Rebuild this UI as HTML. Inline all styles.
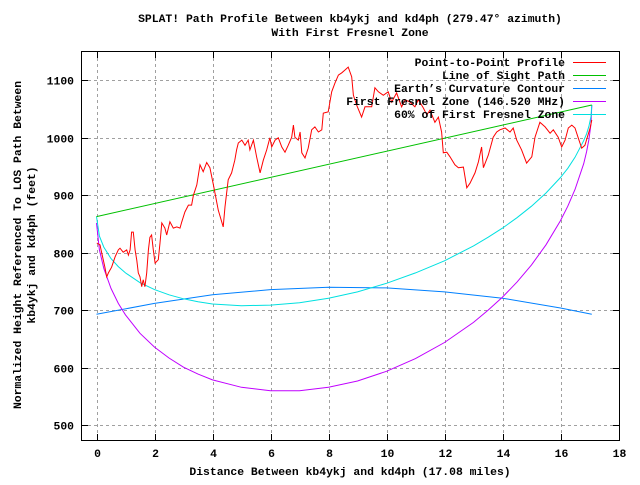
<!DOCTYPE html>
<html><head><meta charset="utf-8"><style>
html,body{margin:0;padding:0;background:#fff;}
svg text{font-family:"Liberation Mono",monospace;font-weight:bold;font-size:11.4px;fill:#000;}
</style></head><body>
<svg id="chart" width="640" height="480" xmlns="http://www.w3.org/2000/svg">
<text x="350" y="22" text-anchor="middle">SPLAT! Path Profile Between kb4ykj and kd4ph (279.47° azimuth)</text>
<text x="350" y="36" text-anchor="middle">With First Fresnel Zone</text>
<text x="350" y="475" text-anchor="middle">Distance Between kb4ykj and kd4ph (17.08 miles)</text>
<g transform="translate(21,245) rotate(-90)"><text x="0" y="0" text-anchor="middle">Normalized Height Referenced To LOS Path Between</text><text x="0" y="14" text-anchor="middle">kb4ykj and kd4ph (feet)</text></g>
<g id="grid"></g><g id="ticks"></g><g id="series"></g><g id="legend"></g>
<rect x="81.5" y="51.5" width="538" height="389" fill="none" stroke="#000" stroke-width="1"/>
</svg>
<script>
const xTicks=[0,2,4,6,8,10,12,14,16,18];
const yTicks=[500,600,700,800,900,1000,1100];
const profileX=[0.01,0.12,0.18,0.29,0.35,0.41,0.52,0.64,0.75,0.81,0.92,1.04,1.10,1.16,1.21,1.27,1.33,1.39,1.44,1.50,1.56,1.61,1.67,1.73,1.79,1.84,1.90,1.96,2.02,2.13,2.19,2.25,2.36,2.42,2.53,2.65,2.77,2.88,2.94,3.05,3.17,3.28,3.34,3.46,3.57,3.68,3.80,3.91,4.03,4.20,4.37,4.43,4.54,4.66,4.77,4.83,4.89,5.01,5.12,5.23,5.29,5.41,5.52,5.64,5.75,5.87,5.98,6.04,6.16,6.27,6.39,6.50,6.61,6.73,6.79,6.84,6.96,7.02,7.08,7.19,7.30,7.42,7.53,7.65,7.77,7.82,7.99,8.11,8.22,8.34,8.46,8.57,8.68,8.80,8.86,8.97,9.14,9.26,9.49,9.60,9.72,9.89,10.06,10.18,10.35,10.52,10.64,10.81,10.98,11.10,11.27,11.39,11.50,11.67,11.79,11.90,11.96,12.08,12.19,12.36,12.48,12.65,12.77,12.88,13.05,13.17,13.28,13.34,13.51,13.68,13.80,13.91,14.09,14.26,14.37,14.49,14.66,14.83,15.01,15.12,15.29,15.47,15.64,15.75,15.92,16.04,16.16,16.27,16.39,16.50,16.61,16.73,16.84,17.02,17.08];
const profileV=[817,814,800,775,758,765,775,793,805,808,801,805,796,805,836,836,805,787,765,758,741,753,741,765,805,827,831,805,782,788,817,852,843,831,854,843,845,843,854,871,883,883,900,918,953,941,957,948,918,874,845,880,927,939,961,979,991,996,987,996,979,996,967,939,961,979,1000,984,996,1000,984,975,987,1001,1022,1001,996,1010,974,965,982,1014,1019,1010,1014,1043,1045,1080,1095,1109,1113,1118,1123,1106,1074,1057,1036,1054,1054,1087,1080,1074,1080,1062,1078,1054,1066,1062,1054,1066,1052,1040,1048,1027,1036,1010,974,975,967,953,948,949,913,921,939,958,984,948,970,1001,1010,1014,1017,1010,1017,996,979,956,967,1001,1027,1019,1008,1014,1001,984,996,1017,1022,1017,1000,982,987,1017,1031];
const losX=[0,17.08];
const losV=[863,1057];
const earthX=[0,2,4,6,8,10,12,14,16,17.08];
const earthV=[693,712,727,736,740,739,732,721,704,693];
const zoneX=[0,0.1,0.25,0.5,0.75,1,1.5,2,2.5,3,3.5,4,5,6,7,8,9,10,11,12,13,13.5,14,14.5,15,15.5,16,16.25,16.5,16.8,16.9,16.98,17.05,17.08];
const fresnelV=[852,805,773,738,712,692,660,636,617,601,589,579,566,560,560,566,577,594,616,644,679,700,723,749,779,814,856,881,910,955,976,997,1024,1057];
const fresnel60V=[863,829,810,790,776,765,748,736,727,720,715,711,708,709,713,721,732,747,765,786,812,827,843,861,881,904,931,947,966,995,1007,1020,1037,1057];
const NS="http://www.w3.org/2000/svg";
function sx(x){return 96.5+x*29;}
function sy(v){return 80.3+(1100-v)*0.575;}
function mk(tag,attrs,parent){const e=document.createElementNS(NS,tag);for(const k in attrs)e.setAttribute(k,attrs[k]);parent.appendChild(e);return e;}
const grid=document.getElementById('grid'),ticks=document.getElementById('ticks'),series=document.getElementById('series'),legend=document.getElementById('legend');
xTicks.forEach(t=>{const x=Math.round(sx(t))+0.5;
 if(x<619){const g=mk('line',{x1:x,x2:x,y1:52,y2:440,stroke:'#a0a0a0','stroke-dasharray':'3,3'},grid);
 
 }
 const a=mk('path',{d:`M${x},440V434M${x},52V58`,stroke:'#000'},ticks);
 
 
 const l=mk('text',{x:x,y:457,'text-anchor':'middle'},ticks);l.textContent=t;
 
 });
yTicks.forEach(t=>{const y=Math.round(sy(t))+0.5;
 const g=mk('line',{x1:82,x2:619,y1:y,y2:y,stroke:'#a0a0a0','stroke-dasharray':'3,3'},grid);
 
 
 const a=mk('path',{d:`M82,${y}H88M619,${y}H613`,stroke:'#000'},ticks);
 
 
 const l=mk('text',{x:74,y:y+4,'text-anchor':'end'},ticks);l.textContent=t;
 
 });
function line(xs,vs,color,name){const d=xs.map((x,i)=>(i?'L':'M')+sx(x).toFixed(1)+','+sy(vs[i]).toFixed(1)).join('');
 const p=mk('path',{d:d,fill:'none',stroke:color,'stroke-width':1},series);
 
 }
line(earthX,earthV,'#0080ff','earth-curvature-line');
line(zoneX,fresnelV,'#c000ff','fresnel-zone-line');
line(zoneX,fresnel60V,'#00e0e0','fresnel-60-line');
line(losX,losV,'#00c000','line-of-sight-line');
line(profileX,profileV,'#ff0000','profile-line');
const legNames=["Point-to-Point Profile","Line of Sight Path","Earth's Curvature Contour","First Fresnel Zone (146.520 MHz)","60% of First Fresnel Zone"];
const legColors=['#ff0000','#00c000','#0080ff','#c000ff','#00e0e0'];
legNames.forEach((n,i)=>{const y=62+i*13;
 const t=mk('text',{x:565,y:y+4,'text-anchor':'end'},legend);t.textContent=n.replace("'","’");
 
 
 const l=mk('line',{x1:573,x2:606,y1:y+0.5,y2:y+0.5,stroke:legColors[i],'stroke-width':1},legend);
 
 });
</script>
</body></html>
